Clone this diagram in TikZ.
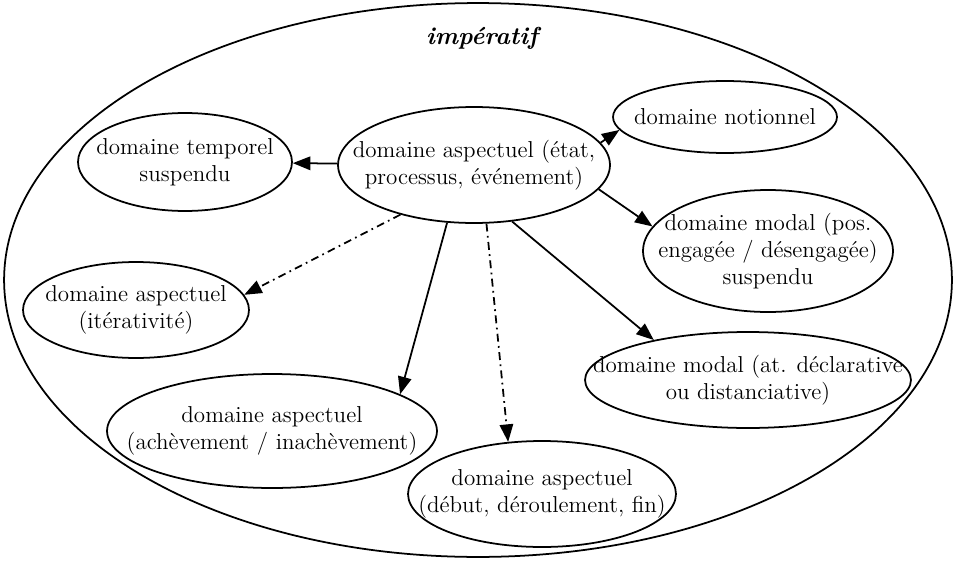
\documentclass[tikz,border=0pt]{standalone}
\usepackage{tikz}
\usetikzlibrary{%
  arrows.meta,%
  shapes.geometric,% wg. ellipse
  positioning%
}

\begin{document}
\begin{tikzpicture}
[x=0.02cm, y=-0.02cm, line width=1pt, >={Triangle[length=0.35cm, width=0.27cm]},
font=\fontsize{13.1}{15.2}\selectfont,
dom/.style 2 args={ellipse, draw, inner sep=0pt, minimum width=#1, minimum height=#2},
txt/.style={align=center, inner sep=0pt},
pfeil/.style={->},
pfeilpunkt/.style={->, dash pattern=on 4.5pt off 2.5pt on 1pt off 2.5pt}]

\useasboundingbox (0,0) rectangle (960,561);

% outer domain
\node[dom={18.96cm}{11.08cm}] (imp) at (478,280) {};
\node[font=\fontsize{14}{16}\selectfont\bfseries\itshape] (imptxt) at (482,38) {impératif};

\node[dom={5.44cm}{2.32cm}, label={[txt]center:domaine aspectuel (état,\\processus, événement)}] (asp) at (474,165) {};
\node[dom={4.28cm}{1.96cm}, label={[txt]center:domaine temporel\\suspendu}] (temp) at (185,162) {};
\node[dom={4.48cm}{1.44cm}, label={[txt]center:domaine notionnel}] (notion) at (725,117) {};
\node[dom={5.00cm}{2.44cm}, label={[txt]center:domaine modal (pos.\\engagée / désengagée)\\suspendu}] (modpos) at (768,251) {};
\node[dom={4.52cm}{1.92cm}, label={[txt]center:domaine aspectuel\\(itérativité)}] (iter) at (136,310) {};
\node[dom={6.52cm}{1.92cm}, label={[txt]center:domaine modal (at. déclarative\\ou distanciative)}] (modat) at (748,380) {};
\node[dom={6.60cm}{2.28cm}, label={[txt]center:domaine aspectuel\\(achèvement / inachèvement)}] (ach) at (272,431) {};
\node[dom={5.36cm}{2.12cm}, label={[txt]center:domaine aspectuel\\(début, déroulement, fin)}] (debut) at (542,494) {};

\draw[pfeil] (asp) -- (temp);
\draw[pfeil] (asp.10) -- (notion.187);
\draw[pfeil] (asp.349) -- (modpos.168);
\draw[pfeil] (asp.304) -- (modat.157);
\draw[pfeil] (asp.245) -- (ach.16);
\draw[pfeilpunkt] (asp.282) -- (debut.123);
\draw[pfeilpunkt] (asp.214) -- (iter.8);
\end{tikzpicture}
\end{document}
